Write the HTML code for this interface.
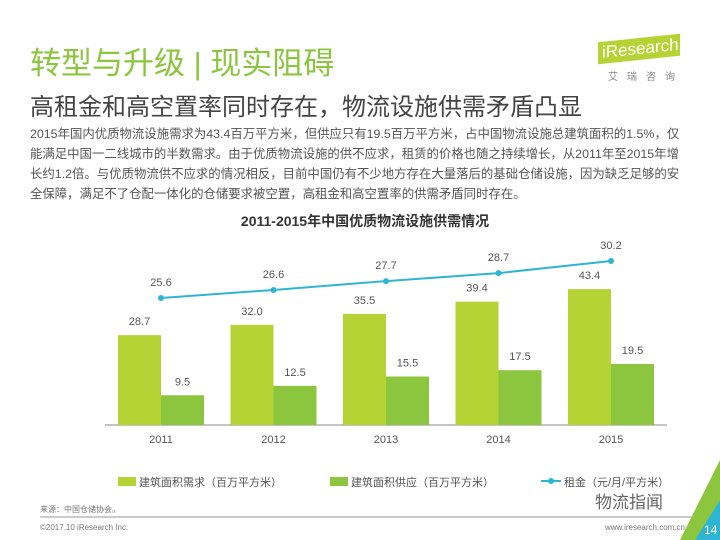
<!DOCTYPE html>
<html><head><meta charset="utf-8"><style>
body{margin:0;width:720px;height:540px;background:#fff;overflow:hidden;position:relative;font-family:"Liberation Sans","Noto Sans CJK SC",sans-serif;}
.a{position:absolute;white-space:nowrap;}
</style></head><body>
<div class="a" style="left:30px;top:38px;font-size:31px;color:#8cc63f;">转型与升级 | 现实阻碍</div>
<div class="a" style="left:598px;top:38px;width:78px;height:22px;background:#b5d334;transform:skewY(-6deg);color:#fff;font-size:17px;line-height:22px;padding-left:4px;">iResearch</div>
<div class="a" style="left:608px;top:68px;font-size:10px;color:#888;letter-spacing:9px;">艾瑞咨询</div>
<div class="a" style="left:30px;top:87px;font-size:24px;color:#444;">高租金和高空置率同时存在，物流设施供需矛盾凸显</div>
<div class="a" style="left:30px;top:124px;width:660px;white-space:normal;font-size:12.4px;line-height:20px;color:#555;">2015年国内优质物流设施需求为43.4百万平方米，但供应只有19.5百万平方米，占中国物流设施总建筑面积的1.5%，仅能满足中国一二线城市的半数需求。由于优质物流设施的供不应求，租赁的价格也随之持续增长，从2011年至2015年增长约1.2倍。与优质物流供不应求的情况相反，目前中国仍有不少地方存在大量落后的基础仓储设施，因为缺乏足够的安全保障，满足不了仓配一体化的仓储要求被空置，高租金和高空置率的供需矛盾同时存在。</div>
<svg class="a" style="left:0;top:0" width="720" height="540" id="chart">
<text x="365" y="226" text-anchor="middle" font-size="14" font-weight="bold" fill="#333">2011-2015年中国优质物流设施供需情况</text>
<line x1="105" y1="425" x2="667" y2="425" stroke="#888" stroke-width="1"/>
<g id="marks"></g>
<rect x="118" y="477" width="18" height="9" fill="#b5d334"/>
<text x="139" y="486" font-size="11" fill="#555">建筑面积需求（百万平方米）</text>
<rect x="330" y="477" width="18" height="9" fill="#8cc63f"/>
<text x="351" y="486" font-size="11" fill="#555">建筑面积供应（百万平方米）</text>
<line x1="541" y1="481" x2="561" y2="481" stroke="#2fb5d4" stroke-width="2"/>
<circle cx="551" cy="481" r="3" fill="#2fb5d4"/>
<text x="564" y="486" font-size="11" fill="#555">租金（元/月/平方米）</text>
<text x="40" y="512" font-size="8" fill="#777">来源：中国仓储协会。</text>
<line x1="40" y1="517" x2="695" y2="517" stroke="#999" stroke-width="1"/>
<text x="40" y="530" font-size="8" fill="#777">©2017.10 iResearch Inc.</text>
<text x="685" y="530" text-anchor="end" font-size="8" fill="#777">www.iresearch.com.cn</text>
<text x="595" y="508" font-size="17" fill="#666">物流指闻</text>
<polygon points="720,460 720,540 680,540" fill="#8cc63f"/>
<polygon points="720,500 720,540 695,540" fill="#2fb5d4"/>
<text x="704" y="534" font-size="12" fill="#fff">14</text>
</svg>
<script>
const years=["2011","2012","2013","2014","2015"];
const demand=[28.7,32.0,35.5,39.4,43.4];
const supply=[9.5,12.5,15.5,17.5,19.5];
const rent=[25.6,26.6,27.7,28.7,30.2];
const NS="http://www.w3.org/2000/svg";
const g=document.getElementById("marks");
const xc=i=>161+i*112.5;
const yb=v=>425-v*3.13;
const yl=v=>298-(v-25.6)*8.04;
function mk(t,a){const e=document.createElementNS(NS,t);for(const k in a)e.setAttribute(k,a[k]);g.appendChild(e);return e;}
years.forEach((y,i)=>{
 let r=mk("rect",{x:xc(i)-43,y:yb(demand[i]),width:43,height:425-yb(demand[i]),fill:"#b5d334"});
 
 
 let t=mk("text",{x:xc(i)-21.5,y:yb(demand[i])-10,"text-anchor":"middle","font-size":"11",fill:"#555"});t.textContent=demand[i].toFixed(1);
 
 
 let s=mk("rect",{x:xc(i),y:yb(supply[i]),width:43,height:425-yb(supply[i]),fill:"#8cc63f"});
 
 
 let t2=mk("text",{x:xc(i)+21.5,y:yb(supply[i])-10,"text-anchor":"middle","font-size":"11",fill:"#555"});t2.textContent=supply[i].toFixed(1);
 
 
 let yt=mk("text",{x:xc(i),y:443,"text-anchor":"middle","font-size":"11",fill:"#555"});yt.textContent=y;
 
 
});
let pl=mk("polyline",{points:rent.map((v,i)=>xc(i)+","+yl(v)).join(" "),fill:"none",stroke:"#2fb5d4","stroke-width":"2"});


rent.forEach((v,i)=>{
 let c=mk("circle",{cx:xc(i),cy:yl(v),r:3,fill:"#2fb5d4"});
 
 
 let t=mk("text",{x:xc(i),y:yl(v)-12,"text-anchor":"middle","font-size":"11",fill:"#555"});t.textContent=v.toFixed(1);
 
 
});
</script>
</body></html>
